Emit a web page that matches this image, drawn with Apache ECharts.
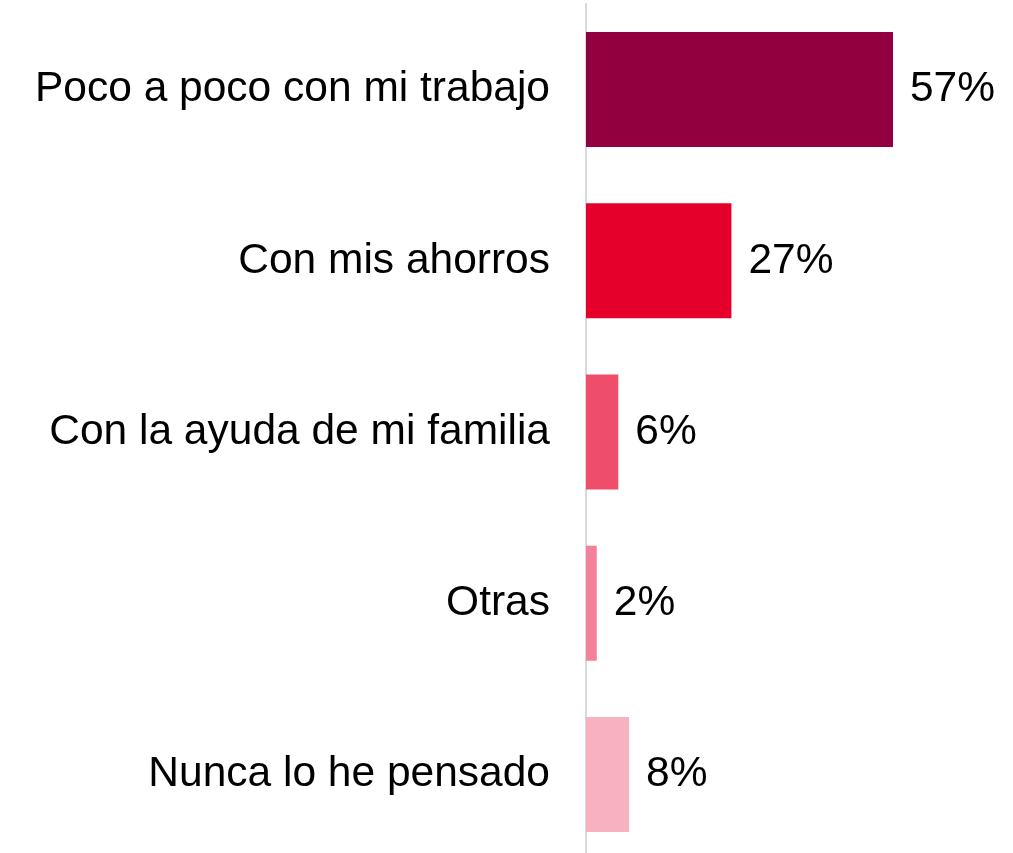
<!DOCTYPE html>
<html><head><meta charset="utf-8">
<script src="https://cdn.jsdelivr.net/npm/echarts@6/dist/echarts.min.js"></script>
<style>html,body{margin:0;padding:0;background:#fff}#c{width:1013px;height:853px}</style>
</head><body><div id="c"></div>
<script>
const categories = ["Poco a poco con mi trabajo", "Con mis ahorros", "Con la ayuda de mi familia", "Otras", "Nunca lo he pensado"];
const values = [57, 27, 6, 2, 8];
const colors = ["#93003F", "#E4002B", "#EE4D6C", "#F3819A", "#F7B1BF"];

const chart = echarts.init(document.getElementById('c'), null, {renderer: 'canvas'});
chart.setOption({
  animation: false,
  backgroundColor: '#fff',
  grid: {left: 586, top: 4, width: 377, height: 856, containLabel: false, outerBoundsMode: 'none'},
  xAxis: {type: 'value', min: 0, max: 70, show: false},
  yAxis: {
    type: 'category', data: categories, inverse: true,
    axisLine: {show: true, lineStyle: {color: '#D9D9D9', width: 2}},
    axisTick: {show: false},
    axisLabel: {margin: 36, fontSize: 42.5, color: '#000', fontFamily: '"Liberation Sans", Arial, sans-serif'}
  },
  series: [{
    type: 'bar', barWidth: 115,
    data: values.map((v, i) => ({value: v, itemStyle: {color: colors[i]}})),
    label: {show: true, position: 'right', distance: 17, formatter: '{c}%', fontSize: 42.5, color: '#000', fontFamily: '"Liberation Sans", Arial, sans-serif'}
  }]
});
</script></body></html>
